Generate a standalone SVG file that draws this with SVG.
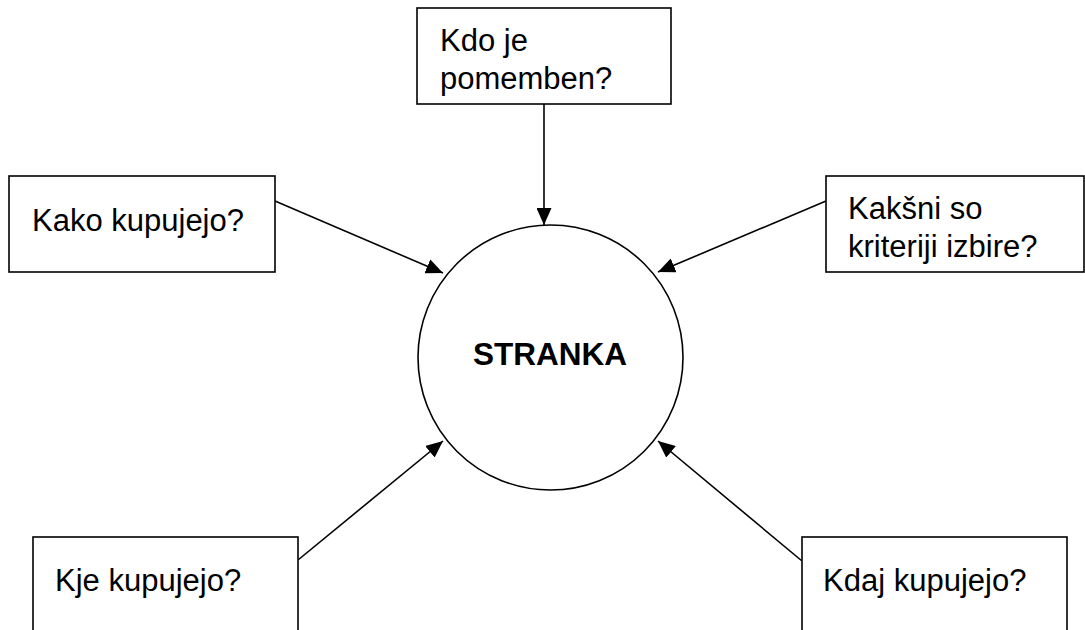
<svg xmlns="http://www.w3.org/2000/svg" width="1085" height="630" viewBox="0 0 1085 630">
<defs>
<style>
.box{fill:#fff;stroke:#000;stroke-width:1.6}
.lbl{font-family:"Liberation Sans",Arial,sans-serif;font-size:31px;fill:#000}
.bold{font-family:"Liberation Sans",Arial,sans-serif;font-size:31.5px;font-weight:bold;fill:#000}
.conn{stroke:#000;stroke-width:1.6;fill:none;marker-end:url(#arr)}
</style>
<marker id="arr" markerUnits="userSpaceOnUse" markerWidth="17" markerHeight="15" refX="17" refY="7.5" orient="auto">
<path d="M0,0 L17,7.5 L0,15 z" fill="#000"/>
</marker>
</defs>
<rect width="1085" height="630" fill="#fff"/>
<g id="connectors">
<line class="conn" x1="544" y1="104" x2="544" y2="225"/>
<line class="conn" x1="275" y1="201" x2="443" y2="273"/>
<line class="conn" x1="826" y1="201" x2="658" y2="272"/>
<line class="conn" x1="298" y1="560" x2="443" y2="441"/>
<line class="conn" x1="802" y1="561" x2="658" y2="441"/>
</g>
<g id="node-stranka">
<circle cx="550.5" cy="357.5" r="132.5" fill="none" stroke="#000" stroke-width="1.6"/>
<text class="bold" x="550" y="365" text-anchor="middle">STRANKA</text>
</g>
<g id="node-kdo">
<rect class="box" x="417" y="8" width="254" height="96"/>
<text class="lbl" x="440" y="51">Kdo je</text>
<text class="lbl" x="440" y="89">pomemben?</text>
</g>
<g id="node-kako">
<rect class="box" x="9" y="176" width="266" height="96"/>
<text class="lbl" x="32" y="231">Kako kupujejo?</text>
</g>
<g id="node-kaksni">
<rect class="box" x="826" y="176" width="258" height="96"/>
<text class="lbl" x="848" y="219">Kakšni so</text>
<text class="lbl" x="848" y="257">kriteriji izbire?</text>
</g>
<g id="node-kje">
<rect class="box" x="33" y="537" width="265" height="110"/>
<text class="lbl" x="55" y="591">Kje kupujejo?</text>
</g>
<g id="node-kdaj">
<rect class="box" x="802" y="537" width="265" height="110"/>
<text class="lbl" x="823" y="591">Kdaj kupujejo?</text>
</g>
</svg>
